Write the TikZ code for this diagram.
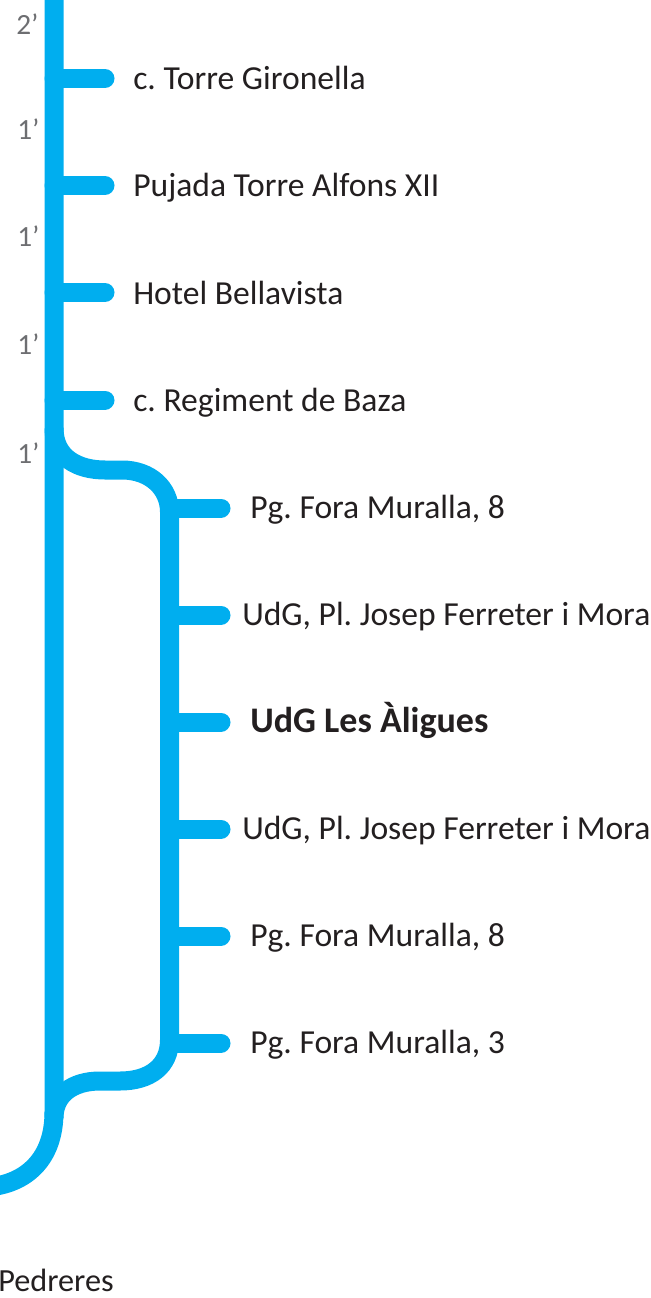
\documentclass[tikz,border=0pt]{standalone}
\usepackage{fontspec}
\setmainfont{Carlito}
\definecolor{lineblue}{HTML}{00AEEF}
\definecolor{stoptext}{HTML}{231F20}
\definecolor{mintext}{HTML}{6D6E71}
\tikzset{
  busline/.style={draw=lineblue,line width=14.25pt},
  stub/.style={busline,line cap=round},
  stoplabel/.style={anchor=base west,inner sep=0pt,text=stoptext,font=\fontsize{25.2}{30}\selectfont\frenchspacing},
  minlabel/.style={anchor=base west,inner sep=0pt,text=mintext,font=\fontsize{22}{26}\selectfont},
}
\begin{document}
\begin{tikzpicture}[x=0.75pt,y=-0.75pt]
\useasboundingbox (0,0) rectangle (650,1298);
\clip (0,0) rectangle (650,1298);
% junctions
\foreach \n/\y in {a/78.5,b/185.5,c/292.5,d/400}{\coordinate (j\n) at (54,\y);\coordinate (e\n) at (105,\y);}
\foreach \n/\y in {e/508,f/615,g/722,h/829,i/936,j/1043}{\coordinate (j\n) at (169.5,\y);\coordinate (e\n) at (221,\y);}
\coordinate (top) at (54,-10);
\coordinate (mainbend) at (54,1112);
\coordinate (exit) at (-12,1187);
\coordinate (splitA) at (54,428);
\coordinate (splitB) at (54,1118);
\path[busline] (top) -- (mainbend) .. controls (54,1160) and (25,1184) .. (exit);
\path[busline] (splitA) .. controls (54,458) and (78,470) .. (105,470) -- (122,470) .. controls (150,470) and (169.5,488) .. (169.5,512)
  -- (169.5,1040) .. controls (169.5,1066) and (150,1081) .. (120,1081) -- (100,1081) .. controls (72,1081) and (54,1095) .. (splitB);
\foreach \n in {a,b,c,d,e,f,g,h,i,j}{\path[stub] (j\n) -- (e\n);}
% stop labels
\node[stoplabel] (sa) at (133,90) {c. Torre Gironella};
\node[stoplabel] (sb) at (133,197) {Pujada Torre Alfons XII};
\node[stoplabel] (sc) at (133,304) {Hotel Bellavista};
\node[stoplabel] (sd) at (133,411) {c. Regiment de Baza};
\node[stoplabel] (se) at (250,518) {Pg. Fora Muralla, 8};
\node[stoplabel] (sf) at (242,625) {UdG, Pl. Josep Ferreter i Mora};
\node[stoplabel,font=\fontsize{27}{30}\selectfont\bfseries] (sg) at (250,732) {UdG Les Àligues};
\node[stoplabel] (sh) at (242,839) {UdG, Pl. Josep Ferreter i Mora};
\node[stoplabel] (si) at (250,946) {Pg. Fora Muralla, 8};
\node[stoplabel] (sj) at (250,1053) {Pg. Fora Muralla, 3};
\node[stoplabel,font=\fontsize{24.2}{30}\selectfont] (sk) at (-2,1291) {Pedreres};
% minutes
\node[minlabel] (m0) at (16,35) {2’};
\node[minlabel] (m1) at (17,140) {1’};
\node[minlabel] (m2) at (17,247) {1’};
\node[minlabel] (m3) at (17,354) {1’};
\node[minlabel] (m4) at (17,463) {1’};
\end{tikzpicture}
\end{document}
